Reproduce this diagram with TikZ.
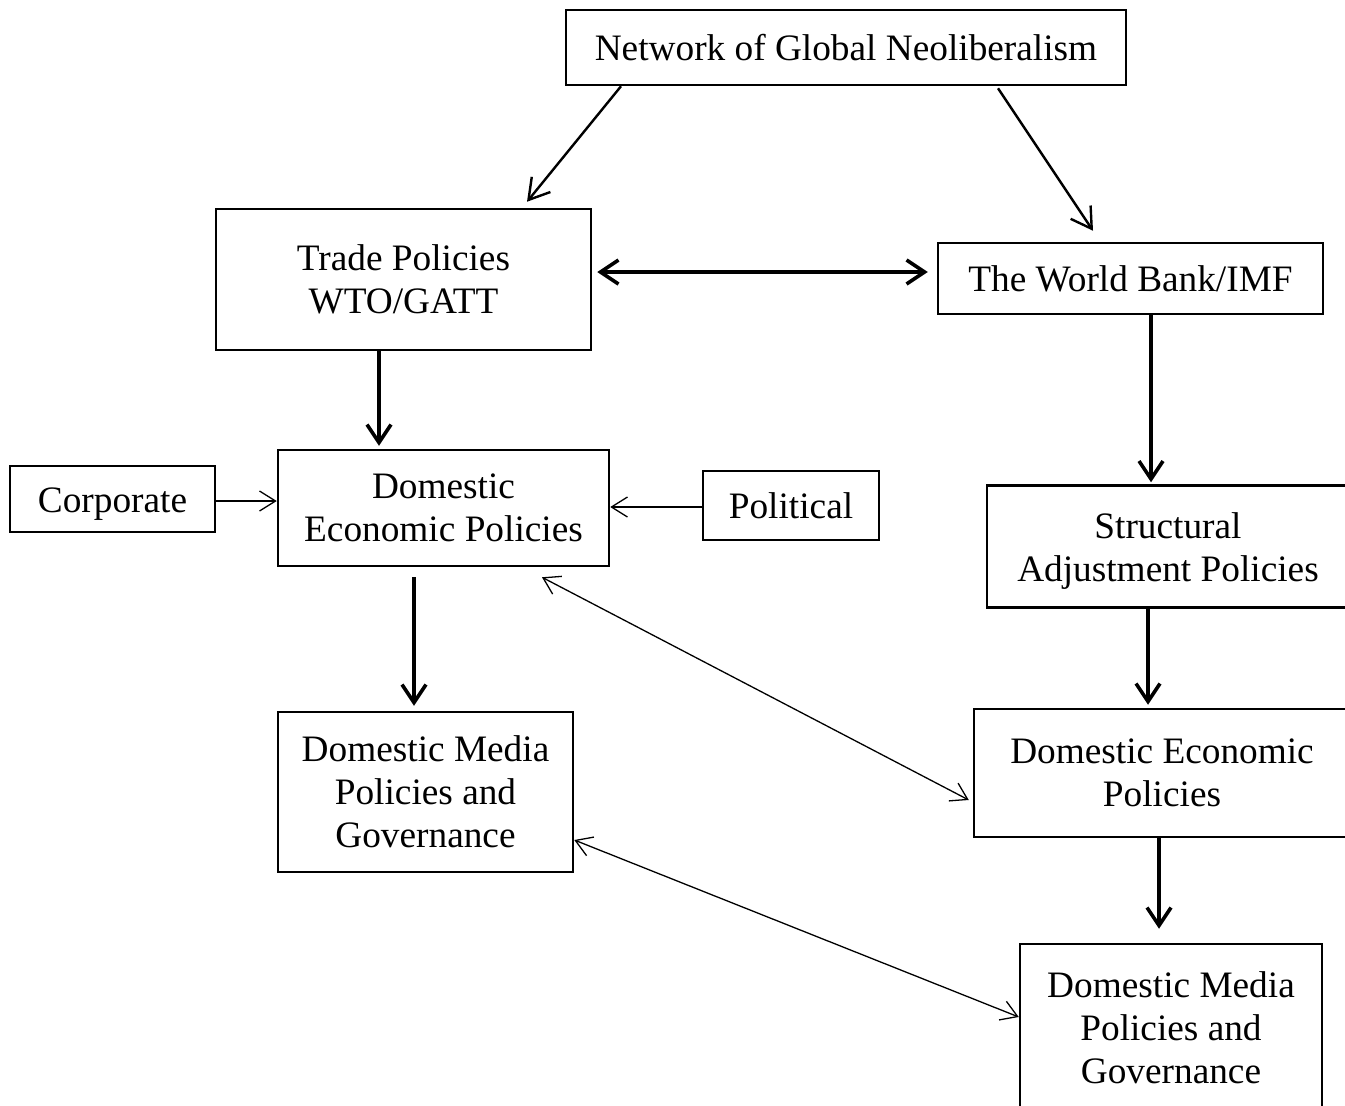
\documentclass[tikz,border=0pt]{standalone}
\usepackage{fontspec}
\setmainfont{Liberation Serif}
\usetikzlibrary{arrows.meta}
\newcommand{\lowered}[1]{\raisebox{-5pt}[\height][\depth]{#1}}
\begin{document}
\begin{tikzpicture}[x=1pt,y=-1pt,
  box/.style={draw,line width=2.5pt,align=center,inner sep=0pt,
    font=\fontsize{37.3}{43}\selectfont},
  heavy/.style={line width=3.6pt,-{Straight Barb[length=18pt,width=24pt,line width=3.6pt]}},
  heavyboth/.style={line width=3.6pt,{Straight Barb[length=18pt,width=24pt,line width=3.6pt]}-{Straight Barb[length=18pt,width=24pt,line width=3.6pt]}},
  medium/.style={line width=2.4pt,-{Straight Barb[length=20pt,width=24pt,line width=2.4pt]}},
  light/.style={line width=1.3pt,-{Straight Barb[length=16pt,width=20pt,line width=1.3pt]}},
  lightboth/.style={line width=1.3pt,{Straight Barb[length=16pt,width=20pt,line width=1.3pt]}-{Straight Barb[length=16pt,width=20pt,line width=1.3pt]}}]
\useasboundingbox (0,0) rectangle (1345,1106);
\clip (0,0) rectangle (1345,1106);

% boxes
\node[box,minimum width=560pt,minimum height=75pt] (net) at (846,47.5) {Network of Global Neoliberalism};
\node[box,minimum width=375pt,minimum height=141pt] (trade) at (403.5,279.5) {Trade Policies\\WTO/GATT};
\node[box,minimum width=385pt,minimum height=71pt] (wb) at (1130.5,278.5) {The World Bank/IMF};
\node[box,minimum width=205pt,minimum height=66pt] (corp) at (112.5,499) {\lowered{Corporate}};
\node[box,minimum width=331pt,minimum height=116pt] (dl) at (443.5,508) {Domestic\\Economic Policies};
\node[box,minimum width=176pt,minimum height=69pt] (pol) at (791,505.5) {Political};
\node[box,minimum width=362pt,minimum height=122pt] (sap) at (1168,546.5) {\lowered{Structural}\\\lowered{Adjustment Policies}};
\node[box,minimum width=376pt,minimum height=128pt] (dr) at (1162,773) {Domestic Economic\\Policies};
\node[box,minimum width=295pt,minimum height=160pt] (ml) at (425.5,792) {Domestic Media\\Policies and\\Governance};
\node[box,minimum width=302pt,minimum height=168pt] (mr) at (1171,1028) {Domestic Media\\Policies and\\Governance};

% connectors from the top box
\draw[medium] ([xshift=-225pt]net.south) -- ([xshift=123.5pt,yshift=6pt]trade.north);
\draw[medium] ([xshift=152pt,yshift=-2pt]net.south) -- ([xshift=-37.5pt,yshift=11pt]wb.north);

% trade policies and the lenders
\draw[heavyboth] ([xshift=5pt,yshift=7.5pt]trade.east) -- ([xshift=-9pt,yshift=6.5pt]wb.west);

% vertical chains
\draw[heavy] ([xshift=-24.5pt]trade.south) -- ([xshift=-64.5pt,yshift=3pt]dl.north);
\draw[heavy] ([xshift=20.5pt]wb.south) -- ([xshift=-17pt,yshift=2pt]sap.north);
\draw[heavy] ([xshift=-20pt]sap.south) -- ([xshift=-14pt,yshift=3pt]dr.north);
\draw[heavy] ([xshift=-3pt]dr.south) -- ([xshift=-12pt,yshift=14pt]mr.north);
\draw[heavy] ([xshift=-29.5pt,yshift=-10pt]dl.south) -- ([xshift=-11.5pt,yshift=5pt]ml.north);

% side influences
\draw[light] ([yshift=-2pt]corp.east) -- ([yshift=7pt]dl.west);
\draw[light] ([yshift=-1.5pt]pol.west) -- ([yshift=1pt]dl.east);

% cross links
\draw[lightboth] ([xshift=98.5pt,yshift=-10pt]dl.south) -- ([xshift=-4pt,yshift=-27pt]dr.west);
\draw[lightboth] ([yshift=-48pt]ml.east) -- ([yshift=11pt]mr.west);
\end{tikzpicture}
\end{document}
